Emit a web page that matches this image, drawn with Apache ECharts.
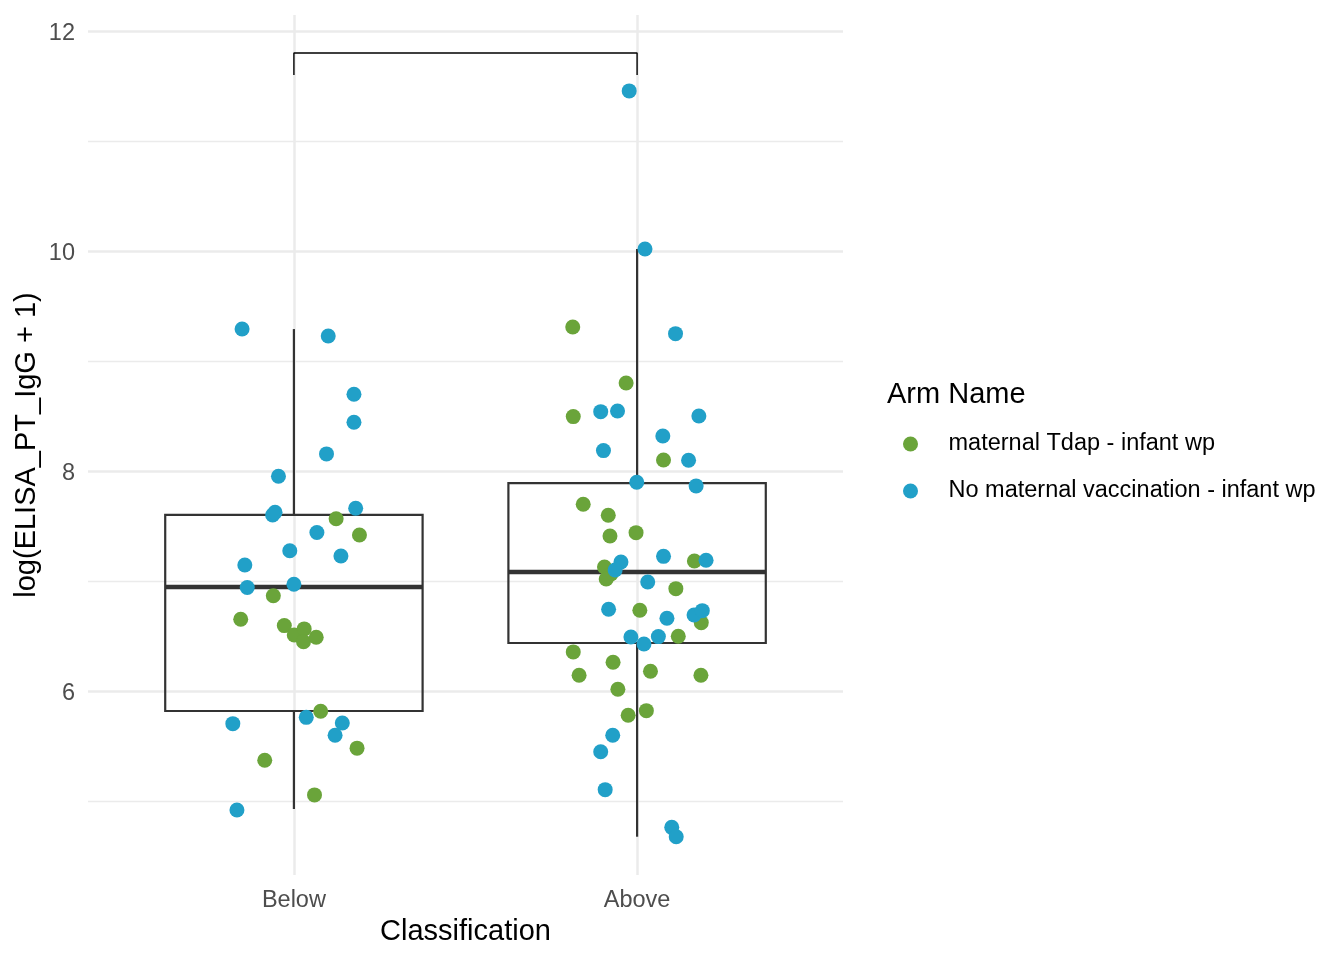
<!DOCTYPE html>
<html>
<head>
<meta charset="utf-8">
<script src="https://cdn.jsdelivr.net/npm/echarts@6.0.0/dist/echarts.min.js"></script>
<style>
  html, body { margin: 0; padding: 0; background: #fff; }
  #main { width: 1344px; height: 960px; }
</style>
</head>
<body>
<div id="main"></div>
<script>
// categories on the x axis (placed at 1 and 2)
var categories = ['Below', 'Above'];
var seriesNames = ['maternal Tdap - infant wp', 'No maternal vaccination - infant wp'];

// box stats: [x, lower whisker, Q1, median, Q3, upper whisker]
var boxStats = [
  [1, 4.927, 5.818, 6.945, 7.600, 9.290],
  [2, 4.675, 6.436, 7.082, 7.890, 10.018]
];

// jittered points: [jittered x, value]
var tdapPoints = [
  [1.123, 7.566], [1.191, 7.418], [0.940, 6.866], [0.845, 6.652], [0.972, 6.594],
  [1.001, 6.509], [1.030, 6.564], [1.028, 6.448], [1.065, 6.488], [1.078, 5.815],
  [1.184, 5.480], [0.915, 5.370], [1.060, 5.055],
  [1.8125, 9.309], [1.968, 8.800], [1.814, 8.494], [2.077, 8.100], [1.843, 7.697],
  [1.916, 7.597], [1.921, 7.409], [1.997, 7.439], [1.905, 7.127], [1.924, 7.064],
  [1.910, 7.018], [2.167, 7.182], [2.113, 6.930], [2.008, 6.734], [2.187, 6.621],
  [2.120, 6.497], [1.814, 6.355], [1.930, 6.261], [1.831, 6.143], [2.039, 6.179],
  [2.186, 6.143], [1.944, 6.015], [1.974, 5.779], [2.027, 5.821]
];
var noVaxPoints = [
  [0.849, 9.290], [1.100, 9.227], [1.175, 8.697], [1.175, 8.443], [1.095, 8.155],
  [0.955, 7.952], [0.938, 7.600], [0.945, 7.624], [1.180, 7.661], [1.067, 7.440],
  [0.988, 7.275], [1.137, 7.227], [0.857, 7.145], [0.864, 6.940], [1.000, 6.970],
  [0.822, 5.703], [1.036, 5.760], [1.141, 5.709], [1.120, 5.597], [0.834, 4.918],
  [1.977, 11.455], [2.023, 10.018], [2.112, 9.248], [1.894, 8.539], [1.943, 8.545],
  [2.180, 8.500], [2.075, 8.318], [1.902, 8.185], [2.150, 8.097], [1.999, 7.897],
  [2.172, 7.864], [1.953, 7.173], [1.936, 7.100], [2.077, 7.224], [2.201, 7.188],
  [2.031, 6.991], [1.917, 6.743], [2.087, 6.661], [2.166, 6.691], [2.190, 6.730],
  [1.982, 6.491], [2.020, 6.427], [2.062, 6.494], [1.929, 5.597], [1.894, 5.448],
  [1.907, 5.103], [2.101, 4.760], [2.114, 4.675]
];

// significance bracket between the two groups
var bracketX = [1, 1, 2, 2];
var bracketY = [11.6, 11.8, 11.8, 11.6];

// tick values
var xTicks = [1, 2];
var yMajorTicks = [6, 8, 10, 12];
var yMinorTicks = [5, 7, 9, 11];

(function () {
  var myChart = echarts.init(document.getElementById('main'));
  var font = 'Liberation Sans, Arial, Helvetica, sans-serif';
  var green = '#6AA43A';
  var blue = '#21A0C8';

  var option = {
    animation: false,
    textStyle: { fontFamily: font },
    title: {
      text: 'Arm Name',
      left: 887,
      top: 380,
      padding: 0,
      textStyle: { fontSize: 29, fontWeight: 'normal', color: '#000', fontFamily: font }
    },
    legend: {
      data: seriesNames,
      orient: 'vertical',
      left: 898,
      top: 427,
      itemWidth: 66,
      itemHeight: 15,
      itemGap: 23,
      icon: 'circle',
      textStyle: { fontSize: 23.5, lineHeight: 24, color: '#000', fontFamily: font }
    },
    grid: {
      left: 88,
      right: 501,
      top: 15,
      bottom: 85
    },
    xAxis: {
      type: 'value',
      min: 0.4,
      max: 2.6,
      name: 'Classification',
      nameLocation: 'middle',
      nameGap: 42,
      nameTextStyle: { fontSize: 29, color: '#000', fontFamily: font },
      axisLine: { show: false },
      axisTick: { show: false, customValues: xTicks },
      axisLabel: {
        customValues: xTicks,
        margin: 14,
        fontSize: 23.5,
        color: '#4D4D4D',
        formatter: function (v) { return categories[Math.round(v) - 1]; }
      },
      splitLine: { show: true, lineStyle: { color: '#EBEBEB', width: 2.5 } }
    },
    yAxis: [
      {
        type: 'value',
        min: 4.327,
        max: 12.145,
        name: 'log(ELISA_PT_IgG + 1)',
        nameLocation: 'middle',
        nameGap: 47,
        nameMoveOverlap: false,
        nameTextStyle: { fontSize: 29, color: '#000', fontFamily: font },
        axisLine: { show: false },
        axisTick: { show: false, customValues: yMajorTicks },
        axisLabel: {
          customValues: yMajorTicks,
          margin: 13,
          verticalAlign: 'top',
          lineHeight: 6,
          fontSize: 23.5,
          color: '#4D4D4D'
        },
        splitLine: { show: true, lineStyle: { color: '#EBEBEB', width: 2.5 } }
      },
      {
        // minor grid lines only
        type: 'value',
        min: 4.327,
        max: 12.145,
        position: 'left',
        axisLine: { show: false },
        axisTick: { show: false, customValues: yMinorTicks },
        axisLabel: { show: false, customValues: yMinorTicks },
        splitLine: { show: true, lineStyle: { color: '#EBEBEB', width: 1.3 } }
      }
    ],
    series: [
      {
        name: 'box',
        type: 'custom',
        data: boxStats,
        encode: { x: 0, y: [1, 2, 3, 4, 5] },
        silent: true,
        z: 2,
        renderItem: function (params, api) {
          var x = api.value(0);
          var half = api.size([0.375, 0])[0];
          var lo = api.coord([x, api.value(1)]);
          var q1 = api.coord([x, api.value(2)]);
          var med = api.coord([x, api.value(3)]);
          var q3 = api.coord([x, api.value(4)]);
          var hi = api.coord([x, api.value(5)]);
          var st = { stroke: '#333333', lineWidth: 2.2, fill: null };
          return {
            type: 'group',
            children: [
              { type: 'line', shape: { x1: hi[0], y1: hi[1], x2: q3[0], y2: q3[1] }, style: st },
              { type: 'line', shape: { x1: q1[0], y1: q1[1], x2: lo[0], y2: lo[1] }, style: st },
              { type: 'rect', shape: { x: q3[0] - half, y: q3[1], width: half * 2, height: q1[1] - q3[1] }, style: st },
              { type: 'line', shape: { x1: med[0] - half, y1: med[1], x2: med[0] + half, y2: med[1] },
                style: { stroke: '#333333', lineWidth: 4.6 } }
            ]
          };
        }
      },
      {
        name: seriesNames[0],
        type: 'scatter',
        data: tdapPoints,
        symbolSize: 15,
        itemStyle: { color: green, opacity: 1 },
        emphasis: { disabled: true },
        z: 3
      },
      {
        name: seriesNames[1],
        type: 'scatter',
        data: noVaxPoints,
        symbolSize: 15,
        itemStyle: { color: blue, opacity: 1 },
        emphasis: { disabled: true },
        z: 4
      },
      {
        name: 'bracket',
        type: 'line',
        data: bracketX.map(function (x, i) { return [x, bracketY[i]]; }),
        symbol: 'none',
        silent: true,
        lineStyle: { color: '#000', width: 1.4 },
        z: 5
      }
    ]
  };

  myChart.setOption(option);
  window.addEventListener('resize', () => myChart.resize());
})();
</script>
</body>
</html>
